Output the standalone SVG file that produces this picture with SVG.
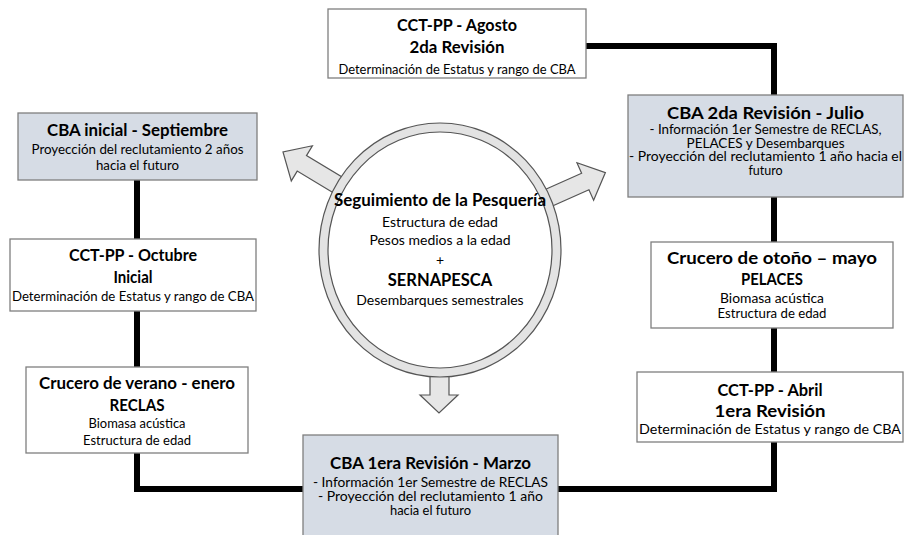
<svg xmlns="http://www.w3.org/2000/svg" width="904" height="535" viewBox="0 0 904 535">
<style>
.box{fill:#ffffff;stroke:#7f7f7f;stroke-width:1.3}
.blue{fill:#d6dce5;stroke:#7f7f7f;stroke-width:1.3}
.conn{fill:none;stroke:#000000;stroke-width:6;stroke-linejoin:miter}
.arr{fill:#e6e6e6;stroke:#555555;stroke-width:1.2;stroke-linejoin:miter}
text{font-family:Lato,"Open Sans","Liberation Sans",sans-serif;fill:#000000;text-anchor:middle}
.t{font-weight:bold;font-size:17px}
.s{font-size:13px}
.c{font-size:14px}
</style>
<rect width="904" height="535" fill="#ffffff"/>
<g id="connectors">
<path class="conn" d="M586 46 H774 V95"/>
<path class="conn" d="M774 197 V242"/>
<path class="conn" d="M774 328 V372"/>
<path class="conn" d="M774 442 V489 H558"/>
<path class="conn" d="M303 489 H137 V453"/>
<path class="conn" d="M137 367 V311"/>
<path class="conn" d="M137 239 V180"/>
</g>
<g id="seguimiento">
<polygon class="arr" transform="translate(338.7,185.5) rotate(211)" points="0,-9 43,-9 43,-20.5 65,0 43,20.5 43,9 0,9"/>
<polygon class="arr" transform="translate(546,199) rotate(-24)" points="0,-9 43,-9 43,-20.5 65,0 43,20.5 43,9 0,9"/>
<polygon class="arr" points="430,360 449,360 449,395 458,395 439,413 420,395 430,395"/>
<ellipse cx="440" cy="250" rx="121" ry="127" fill="#e3e3e3" stroke="#555555" stroke-width="1.2"/>
<ellipse cx="440" cy="250" rx="112" ry="118" fill="#ffffff" stroke="#555555" stroke-width="1.2"/>
<text x="440" y="206" class="t" style="font-size:16.5px" textLength="212" lengthAdjust="spacingAndGlyphs">Seguimiento de la Pesquería</text>
<text x="440" y="227" class="c">Estructura de edad</text>
<text x="440" y="245" class="c">Pesos medios a la edad</text>
<text x="440" y="265" class="c">+</text>
<text x="440" y="286" class="t" style="font-size:16.5px">SERNAPESCA</text>
<text x="440" y="305" class="c">Desembarques semestrales</text>
</g>
<g id="agosto">
<rect class="box" x="328" y="9" width="258" height="69"/>
<text x="457" y="30.5" class="t" textLength="120" lengthAdjust="spacingAndGlyphs">CCT-PP - Agosto</text>
<text x="457" y="52.5" class="t" textLength="95" lengthAdjust="spacingAndGlyphs">2da Revisión</text>
<text x="457" y="74" class="s" textLength="237" lengthAdjust="spacingAndGlyphs">Determinación de Estatus y rango de CBA</text>
</g>
<g id="julio">
<rect class="blue" x="628" y="95" width="275" height="102"/>
<text x="765.5" y="119" class="t" textLength="197" lengthAdjust="spacingAndGlyphs">CBA 2da Revisión - Julio</text>
<text x="765.5" y="134" class="s" style="font-size:12.5px" textLength="232" lengthAdjust="spacingAndGlyphs">- Información 1er Semestre de  RECLAS,</text>
<text x="765.5" y="147.5" class="s" style="font-size:12.5px" textLength="158" lengthAdjust="spacingAndGlyphs">PELACES y Desembarques</text>
<text x="765.5" y="161" class="s" style="font-size:12.5px" textLength="273" lengthAdjust="spacingAndGlyphs">- Proyección del reclutamiento 1 año hacia el</text>
<text x="765.5" y="174.5" class="s" style="font-size:12.5px">futuro</text>
</g>
<g id="mayo">
<rect class="box" x="651" y="242" width="242" height="86"/>
<text x="772" y="264" class="t" textLength="210" lengthAdjust="spacingAndGlyphs">Crucero de otoño – mayo</text>
<text x="772" y="285" class="t" textLength="62" lengthAdjust="spacingAndGlyphs">PELACES</text>
<text x="772" y="303" class="s" textLength="104" lengthAdjust="spacingAndGlyphs">Biomasa acústica</text>
<text x="772" y="318" class="s" textLength="109" lengthAdjust="spacingAndGlyphs">Estructura de edad</text>
</g>
<g id="abril">
<rect class="box" x="637" y="372" width="266" height="70"/>
<text x="770" y="396" class="t" textLength="105" lengthAdjust="spacingAndGlyphs">CCT-PP - Abril</text>
<text x="770" y="417" class="t" textLength="111" lengthAdjust="spacingAndGlyphs">1era Revisión</text>
<text x="770" y="434" class="s" textLength="262" lengthAdjust="spacingAndGlyphs">Determinación de Estatus y rango de CBA</text>
</g>
<g id="marzo">
<rect class="blue" x="303" y="435" width="255" height="105"/>
<text x="430.5" y="469" class="t" textLength="201" lengthAdjust="spacingAndGlyphs">CBA 1era Revisión - Marzo</text>
<text x="430.5" y="487" class="s" style="font-size:12.5px" textLength="235" lengthAdjust="spacingAndGlyphs">- Información 1er Semestre de RECLAS</text>
<text x="430.5" y="501" class="s" style="font-size:12.5px" textLength="225" lengthAdjust="spacingAndGlyphs">- Proyección del reclutamiento 1 año</text>
<text x="430.5" y="515" class="s" style="font-size:12.5px" textLength="81" lengthAdjust="spacingAndGlyphs">hacia el futuro</text>
</g>
<g id="enero">
<rect class="box" x="26" y="367" width="222" height="86"/>
<text x="137" y="389" class="t" textLength="196" lengthAdjust="spacingAndGlyphs">Crucero de verano - enero</text>
<text x="137" y="411" class="t" textLength="55" lengthAdjust="spacingAndGlyphs">RECLAS</text>
<text x="137" y="428" class="s" textLength="97" lengthAdjust="spacingAndGlyphs">Biomasa acústica</text>
<text x="137" y="445" class="s" textLength="108" lengthAdjust="spacingAndGlyphs">Estructura  de edad</text>
</g>
<g id="octubre">
<rect class="box" x="10" y="239" width="246" height="72"/>
<text x="133" y="261" class="t" textLength="128" lengthAdjust="spacingAndGlyphs">CCT-PP - Octubre</text>
<text x="133" y="283" class="t" textLength="39" lengthAdjust="spacingAndGlyphs">Inicial</text>
<text x="133" y="301" class="s" textLength="242" lengthAdjust="spacingAndGlyphs">Determinación de Estatus y rango de CBA</text>
</g>
<g id="septiembre">
<rect class="blue" x="18" y="113" width="239" height="67"/>
<text x="137.5" y="136" class="t" textLength="181" lengthAdjust="spacingAndGlyphs">CBA inicial - Septiembre</text>
<text x="137.5" y="153.5" class="s" textLength="212" lengthAdjust="spacingAndGlyphs">Proyección del reclutamiento 2 años</text>
<text x="137.5" y="169.5" class="s" textLength="83" lengthAdjust="spacingAndGlyphs">hacia el futuro</text>
</g>
</svg>
